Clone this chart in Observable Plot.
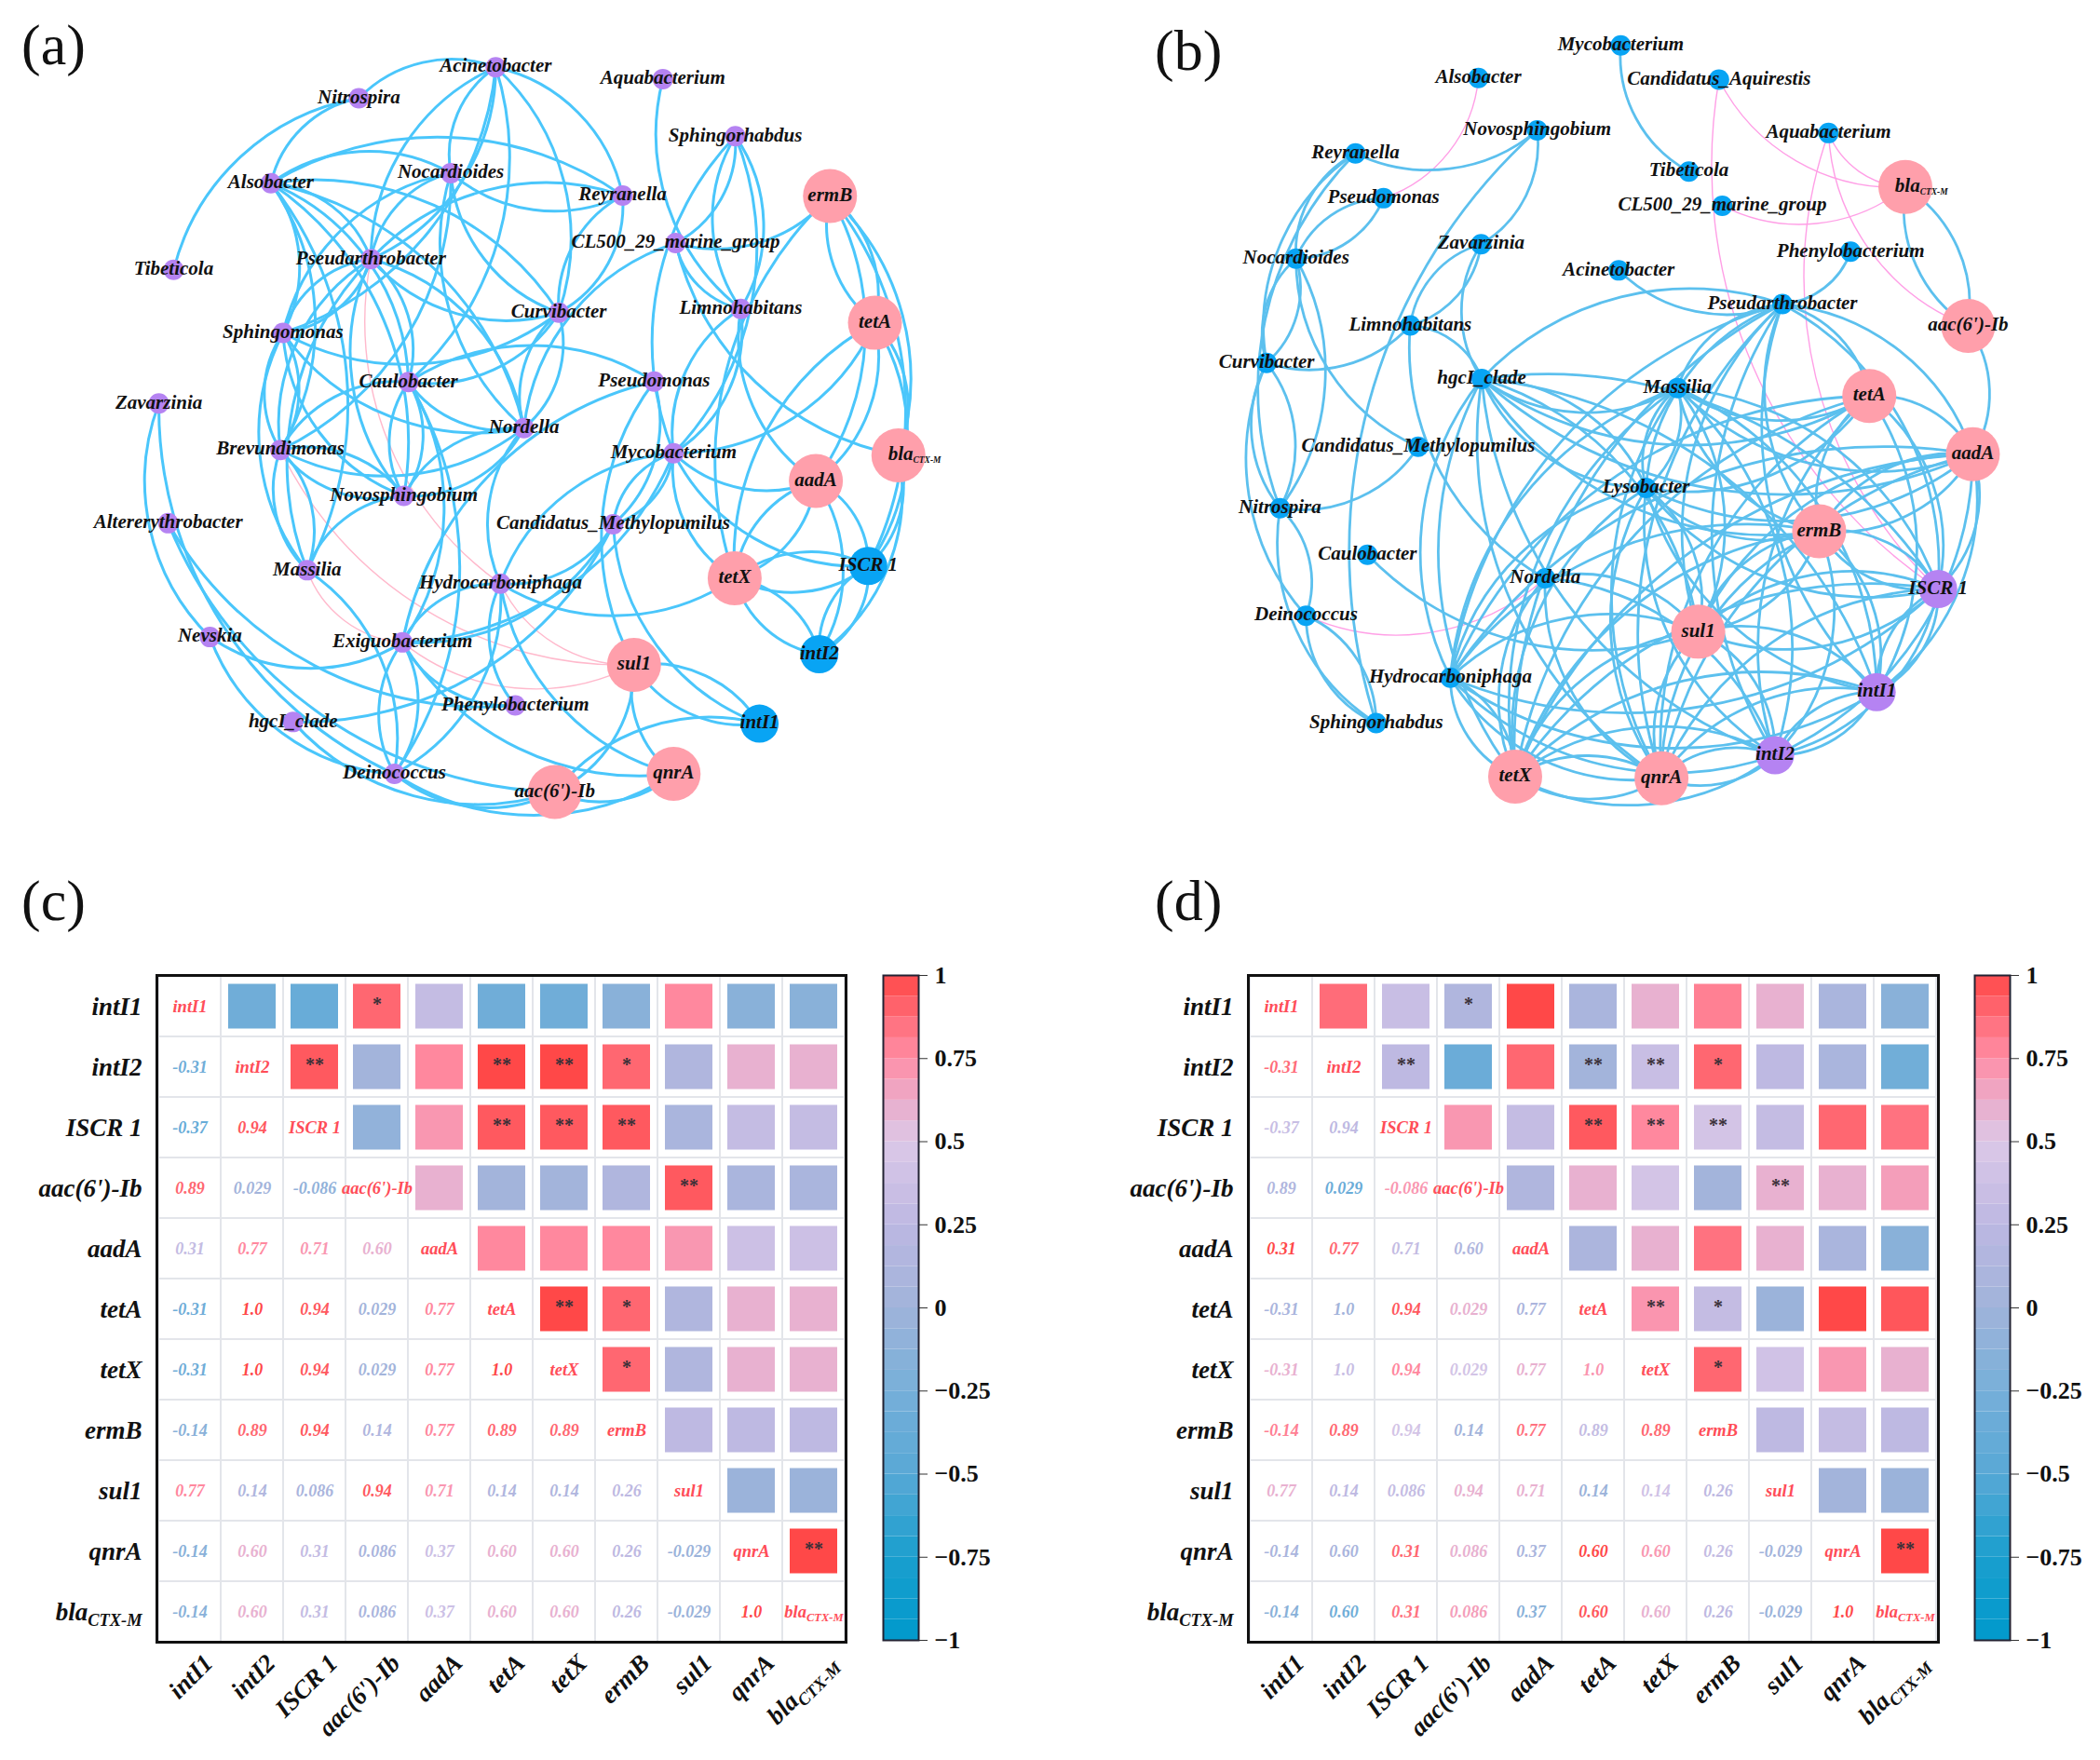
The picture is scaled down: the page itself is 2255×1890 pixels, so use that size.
<!DOCTYPE html>
<html><head><meta charset="utf-8">
<script src="https://cdn.jsdelivr.net/npm/d3@7"></script>
<script src="https://cdn.jsdelivr.net/npm/@observablehq/plot@0.6"></script>
<style>
html,body{margin:0;padding:0;background:#fff}
#wrap{position:relative;width:2255px;height:1890px;overflow:hidden;background:#fff}
#wrap>svg,#wrap>div.p{position:absolute}
.letter{position:absolute;font-family:"Liberation Serif",serif;font-size:62px;line-height:62px;color:#111}
</style></head><body><div id="wrap"></div>
<script>
// ---------- network (a): nodes [name, x, y] on a 0-1568 grid
const generaA = [["Acinetobacter",738,125],["Nitrospira",534,183],["Aquabacterium",987,147],["Sphingorhabdus",1095,254],["Alsobacter",403,342],["Nocardioides",671,323],["Reyranella",927,365],["CL500_29_marine_group",1006,454],["Tibeticola",258,504],["Pseudarthrobacter",552,484],["Curvibacter",832,584],["Limnohabitans",1103,577],["Sphingomonas",421,622],["Caulobacter",608,714],["Pseudomonas",974,713],["Zavarzinia",236,754],["Nordella",780,800],["Brevundimonas",417,841],["Mycobacterium",1003,847],["Novosphingobium",601,927],["Altererythrobacter",250,978],["Candidatus_Methylopumilus",913,980],["Massilia",457,1066],["Hydrocarboniphaga",745,1091],["Nevskia",312,1191],["Exiguobacterium",599,1201],["Phenylobacterium",767,1319],["hgcI_clade",436,1350],["Deinococcus",587,1447]];
const argsA = [["ermB",1236,366],["tetA",1303,603],["blaCTX-M",1338,851],["aadA",1215,899],["tetX",1094,1081],["sul1",944,1243],["qnrA",1003,1447],["aac(6')-Ib",826,1481]];
const mgesA = [["ISCR 1",1293,1058],["intI2",1220,1223],["intI1",1131,1353]];
const edgesA = ["Tibe>Nitr","Nitr>Acin","Alsob>Nitr","Alsob>Reyr","Alsob>Noca","Alsob>Curv","Alsob>Nord","Alsob>Pseudar","Alsob>Caul","Alsob>Sphingom","Alsob>Brev","Alsob>Novo","Alsob>Mass",
"Acin>Reyr","Acin>Curv","Acin>Caul","Noca>Acin","Pseudar>Acin","Acin>Sphingom","Acin>Pseudar","Reyr>Noca","Pseudar>Reyr","Curv>Noca","Nord>Noca","Sphingom>Noca","Pseudar>Noca","Noca>Brev",
"Curv>Pseudar","Pseudar>Caul","Novo>Pseudar","Sphingom>Pseudar","Brev>Pseudar","Mass>Pseudar","Pseudar>Nord","Pseudar>Sphingom",
"Curv>Sphingom","Nord>Sphingom","Novo>Sphingom","Brev>Sphingom","Sphingom>Brev","Mass>Sphingom","Brev>Caul","Novo>Brev","Brev>Novo","Nord>Brev","Mass>Brev","Brev>Mass",
"Caul>Novo","Novo>Caul","Nord>Caul","Caul>Pseudom","Curv>Caul","Caul>Dein","Caul>Exig","Nord>Curv","Curv>Nord","Nord>CL50","Curv>Reyr","Reyr>Curv","Novo>Nord","Nord>Novo","Mass>Novo","Hydr>Nord",
"Exig>Pseudom","Pseudom>Cand","sul1>Pseudom","Limn>Aqua","Sphingor>CL50","Sphingor>Limn","Limn>Sphingor","Sphingor>Myco","Myco>Sphingor","ermB>CL50","Limn>CL50","bla>CL50","Myco>Limn","Limn>Myco","aadA>Limn",
"ermB>tetA","tetA>ermB","ermB>bla","ermB>ISCR","ermB>aadA","tetX>ermB","tetA>bla","tetA>ISCR","tetA>aadA","tetA>Myco","tetX>tetA","bla>ISCR","bla>intI2","aadA>ISCR","tetX>aadA","aadA>tetX","aadA>Myco","aadA>intI2",
"tetX>Myco","ISCR>Myco","Hydr>Myco","Myco>Exig","Myco>Cand","Cand>Myco","tetX>ISCR","ISCR>tetX","intI2>tetX","tetX>intI2","tetX>Hydr","ISCR>intI2","intI2>ISCR","sul1>intI1","intI1>sul1","qnrA>sul1","sul1>aac","aac>intI1","qnrA>aac","qnrA>Hydr","qnrA>Exig",
"Dein>Exig","Exig>Dein","Hydr>Dein","Exig>Hydr","Exig>Nevs","Cand>hgcI","Cand>Hydr","intI1>Cand","Cand>Exig","Phen>Hydr","Phen>Exig","Phen>Alte","aac>Alte","Nevs>Zava","Dein>Nevs","aac>hgcI","aac>Dein","qnrA>Dein","Mass>Dein","Dein>Zava"];
const pinkA = ["sul1>Brev","Hydr>Pseudar","sul1>Exig","sul1>Hydr","Exig>Mass"];

// ---------- network (b)
const generaB = [["Mycobacterium",850,84],["Alsobacter",637,145],["Candidatus_Aquirestis",997,148],["Novosphingobium",725,243],["Aquabacterium",1161,248],["Reyranella",453,286],["Pseudomonas",495,370],["Tibeticola",952,320],["CL500_29_marine_group",1002,384],["Nocardioides",364,483],["Zavarzinia",641,456],["Phenylobacterium",1194,470],["Acinetobacter",847,505],["Pseudarthrobacter",1092,568],["Limnohabitans",535,608],["Curvibacter",320,678],["hgcI_clade",642,708],["Massilia",935,725],["Candidatus_Methylopumilus",547,835],["Lysobacter",888,912],["Nitrospira",340,950],["Caulobacter",471,1037],["Nordella",737,1081],["Deinococcus",379,1151],["Hydrocarboniphaga",595,1267],["Sphingorhabdus",484,1352]];
const argsB = [["blaCTX-M",1276,349],["aac(6')-Ib",1370,609],["tetA",1222,740],["aadA",1377,849],["ermB",1147,993],["sul1",966,1181],["tetX",692,1452],["qnrA",911,1455]];
const mgesB = [["ISCR 1",1325,1101],["intI1",1233,1294],["intI2",1081,1412]];
const edgesB = ["Novo>Reyr","Noca>Pseudom","Pseudom>Noca","Noca>Reyr","Curv>Reyr","Nitr>Reyr","Noca>Curv","Curv>Noca","Noca>Nitr","Candidatus_M>Noca","Curv>Nitr","Nitr>Curv","Dein>Curv","Nitr>Dein","Sphingor>Nitr","Sphingor>Dein","Dein>Sphingor","Candidatus_M>Nitr","Limn>Curv","Zava>Limn","Limn>Zava","hgcI>Zava","Novo>Zava","Sphingor>Novo","Nord>Limn","Limn>hgcI","sul1>Caul",
"Tibe>Myco","Pseudar>Acin","Phen>Pseudar","hgcI>Pseudar","bla>aac","aac>bla","aac>aadA",
"Mass>hgcI","tetA>hgcI","aadA>hgcI","ermB>hgcI","hgcI>ISCR","hgcI>sul1","hgcI>intI1","intI2>hgcI","qnrA>hgcI","tetX>hgcI","hgcI>Lyso","Lyso>hgcI",
"tetA>Mass","aadA>Mass","ermB>Mass","Mass>ISCR","Mass>sul1","Mass>intI1","Mass>intI2","tetX>Mass","qnrA>Mass","Mass>Lyso","Lyso>Mass",
"aadA>Lyso","tetA>Lyso","ermB>Lyso","ISCR>Lyso","Lyso>sul1","intI1>Lyso","intI2>Lyso","tetX>Lyso","qnrA>Lyso",
"Pseudar>tetA","Pseudar>aadA","ermB>Pseudar","Pseudar>ISCR","sul1>Pseudar","intI1>Pseudar","intI2>Pseudar","qnrA>Pseudar","tetX>Pseudar","Mass>Pseudar","Lyso>Pseudar",
"intI1>Hydr","ISCR>Hydr","Hydr>sul1","Hydr>ermB","intI2>Hydr","qnrA>Hydr","tetX>Hydr","Hydr>tetX","Hydr>aadA","Hydr>tetA","Hydr>Lyso","Hydr>hgcI","Hydr>Mass","Hydr>Pseudar","tetX>Nord","qnrA>Nord","Nord>intI2","Nord>sul1",
"tetA>aadA","tetA>ISCR","tetA>intI1","intI2>tetA","tetX>tetA","qnrA>tetA","ermB>tetA","aadA>ermB","ermB>aadA","aadA>ISCR","aadA>intI1","aadA>intI2","sul1>aadA","tetX>aadA","qnrA>aadA","ermB>ISCR","ISCR>ermB","ermB>intI1","ermB>intI2","sul1>ermB","ermB>sul1","tetX>ermB","qnrA>ermB","sul1>ISCR","ISCR>sul1","ISCR>intI1","ISCR>intI2","intI1>ISCR","tetX>ISCR","qnrA>ISCR","sul1>intI1","sul1>intI2","tetX>sul1","qnrA>sul1","tetX>intI1","qnrA>intI1","intI1>intI2","intI2>intI1","tetX>intI2","intI2>tetX","intI2>qnrA","qnrA>intI2","tetX>qnrA","qnrA>tetX"];
const pinkB = ["Alsob>Pseudom","bla>Candidatus_A","ISCR>Candidatus_A","bla>Aqua","aac>Aqua","ISCR>Aqua","bla>CL50","Nord>Dein"];

// ---------- heatmaps
const genes = ["intI1","intI2","ISCR 1","aac(6')-Ib","aadA","tetA","tetX","ermB","sul1","qnrA","blaCTX-M"];
const printed = [[],["-0.31"],["-0.37","0.94"],["0.89","0.029","-0.086"],["0.31","0.77","0.71","0.60"],["-0.31","1.0","0.94","0.029","0.77"],["-0.31","1.0","0.94","0.029","0.77","1.0"],["-0.14","0.89","0.94","0.14","0.77","0.89","0.89"],["0.77","0.14","0.086","0.94","0.71","0.14","0.14","0.26"],["-0.14","0.60","0.31","0.086","0.37","0.60","0.60","0.26","-0.029"],["-0.14","0.60","0.31","0.086","0.37","0.60","0.60","0.26","-0.029","1.0"]];
const fillsC = printed.map(r=>r.map(Number));
// colours of panel (d), read as values; row i holds columns 0..i-1
const fillsD = [[],[0.87],[0.34,0.26],[0.14,-0.35,0.71],[1,0.89,0.31,0.14],[0.09,0.03,0.94,0.6,0.1],[0.6,0.34,0.77,0.43,0.6,0.72],[0.8,0.89,0.43,0.03,0.85,0.31,0.89],[0.6,0.26,0.31,0.6,0.6,-0.03,0.4,0.26],[0.09,0.09,0.89,0.6,0.09,1,0.71,0.31,0.03],[-0.14,-0.3,0.85,0.68,-0.14,0.95,0.6,0.26,-0.03,1]];
const stars = [["intI1","aac(6')-Ib","*"],["intI2","ISCR 1","**"],["intI2","tetA","**"],["intI2","tetX","**"],["intI2","ermB","*"],["ISCR 1","tetA","**"],["ISCR 1","tetX","**"],["ISCR 1","ermB","**"],["aac(6')-Ib","sul1","**"],["tetA","tetX","**"],["tetA","ermB","*"],["tetX","ermB","*"],["qnrA","blaCTX-M","**"]];
const colorStops = [-1,-0.75,-0.5,-0.25,0,0.25,0.5,0.62,0.75,1];
const colorRange = ["#0099cc","#1a9fce","#58a8d6","#77afd9","#a0b3da","#bdb8e2","#dcc8e8","#eaaccb","#ff8ea6","#ff4848"];
const colorTicks = [-1,-0.75,-0.5,-0.25,0,0.25,0.5,0.75,1];

const SERIF = '"Liberation Serif","Times New Roman",serif';
const wrap = document.getElementById("wrap");
function place(svg,l,t){svg.style.left=l+"px";svg.style.top=t+"px";wrap.appendChild(svg);return svg}
function letter(s,l,t){const d=document.createElement("div");d.className="letter";d.textContent=s;d.style.left=l+"px";d.style.top=t+"px";wrap.appendChild(d)}
function subscript(svg,em){
  d3.select(svg).selectAll("text").each(function(){
    if(this.textContent==="blaCTX-M"){
      const t=d3.select(this);t.text("bla");
      t.append("tspan").attr("font-size",em).attr("dy",".35em").text("CTX-M");
    }
  });
}
function network(o){
  const all=[...o.genera,...o.args,...o.mges];
  const at=id=>all.find(n=>n[0].startsWith(id));
  const links=l=>l.map(s=>s.split(">").map(at));
  const sharedArrow={x1:d=>d[0][1],y1:d=>d[0][2],x2:d=>d[1][1],y2:d=>d[1][2],headLength:0,bend:o.bend};
  const svg=Plot.plot({
    width:o.w,height:900,margin:0,
    x:{axis:null,domain:[0,1568],range:[0,o.w]},
    y:{axis:null,domain:[0,1568],range:[0,900]},
    style:{background:"transparent"},
    marks:[
      Plot.arrow(links(o.pink),{...sharedArrow,stroke:o.pinkColor,strokeWidth:1.4}),
      Plot.arrow(links(o.edges),{...sharedArrow,stroke:o.edge,strokeWidth:o.sw}),
      Plot.dot(o.genera,{x:d=>d[1],y:d=>d[2],r:11,fill:o.genusColor}),
      Plot.dot(o.args,{x:d=>d[1],y:d=>d[2],r:29,fill:"#ff9fab"}),
      Plot.dot(o.mges,{x:d=>d[1],y:d=>d[2],r:20.5,fill:o.mgeColor}),
      Plot.text(all,{x:d=>d[1]+(d[0]==="blaCTX-M"?24:0),y:d=>d[2],text:d=>d[0],dy:-1.5,fontFamily:SERIF,fontWeight:"bold",fontStyle:"italic",fontSize:21,fill:"#111"})
    ]});
  subscript(svg,"0.45em");
  return svg;
}
place(network({w:1130,genera:generaA,args:argsA,mges:mgesA,edges:edgesA,pink:pinkA,edge:"#4ac6fb",sw:3,pinkColor:"#ffb9cc",genusColor:"#b583f2",mgeColor:"#08a4f4",bend:33}),0,0);
place(network({w:1125,genera:generaB,args:argsB,mges:mgesB,edges:edgesB,pink:pinkB,edge:"#5cc0ee",sw:2.8,pinkColor:"#ff9fe6",genusColor:"#08a4f4",mgeColor:"#b583f2",bend:33}),1130,0);

function heat(fills,ml,mr){
  const lower=[],upper=[],grid=[],diag=genes.map(g=>({g}));
  genes.forEach((r,i)=>genes.forEach((c,j)=>{
    grid.push({r,c});
    if(j<i){lower.push({r,c,t:printed[i][j],v:fills[i][j]});upper.push({r:c,c:r,v:fills[i][j]});}
  }));
  const txt={fontFamily:SERIF,fontWeight:"bold",fontStyle:"italic"};
  const svg=Plot.plot({
    width:930,height:850,marginLeft:ml,marginRight:mr,marginTop:7,marginBottom:127,
    x:{domain:genes,padding:0,label:null},y:{domain:genes,padding:0,label:null},
    color:{type:"linear",domain:colorStops,range:colorRange},
    style:{fontFamily:SERIF,background:"transparent"},
    marks:[
      Plot.cell(grid,{x:"c",y:"r",fill:"none",stroke:"#e3e5ea",strokeWidth:2}),
      Plot.cell(upper,{x:"c",y:"r",fill:"v",insetLeft:8,insetRight:8,insetTop:8.5,insetBottom:8.5}),
      Plot.text(stars,{x:d=>d[1],y:d=>d[0],text:d=>d[2],dy:-2,fontSize:20,fontWeight:"bold",fill:"#3a3038",fontFamily:SERIF}),
      Plot.text(lower,{x:"c",y:"r",text:"t",fill:"v",fontSize:18,...txt}),
      Plot.text(diag,{x:"g",y:"g",text:"g",fill:"#ff4d58",fontSize:18.5,...txt}),
      Plot.axisY({tickSize:0,tickPadding:16,fontSize:27,label:null,...txt,fill:"#111"}),
      Plot.axisX({tickSize:0,tickPadding:0,fontSize:27,label:null,tickRotate:-45,textAnchor:"end",dx:20,dy:18,...txt,fill:"#111"}),
      Plot.frame({stroke:"#111",strokeWidth:3})
    ]});
  subscript(svg,"0.68em");
  return svg;
}
function bar(){
  const step=0.0625,levels=d3.range(-1,1,step);
  return Plot.plot({
    width:140,height:730,marginLeft:8,marginRight:94,marginTop:7,marginBottom:9,
    x:{axis:null,domain:[0,1]},y:{domain:[-1,1],label:null},
    color:{type:"linear",domain:colorStops,range:colorRange},
    style:{fontFamily:SERIF,background:"transparent",overflow:"visible"},
    marks:[
      Plot.rect(levels,{x1:0,x2:1,y1:d=>d,y2:d=>d+step,fill:d=>d+step/2}),
      Plot.axisY({anchor:"right",ticks:colorTicks,tickSize:9,tickPadding:8,fontSize:26,fontWeight:"bold",label:null,stroke:"#333",fill:"#111",
        tickFormat:v=>v<0?"\u2212"+Math.abs(v):String(v)}),
      Plot.frame({stroke:"#223",strokeWidth:2})
    ]});
}
place(heat(fillsC,168,22),0,1040);
place(bar(),940,1040);
place(heat(fillsD,160,29),1180,1040);
place(bar(),2112,1040);
letter("(a)",23,17);letter("(b)",1240,23);letter("(c)",23,936);letter("(d)",1240,936);
</script></body></html>
